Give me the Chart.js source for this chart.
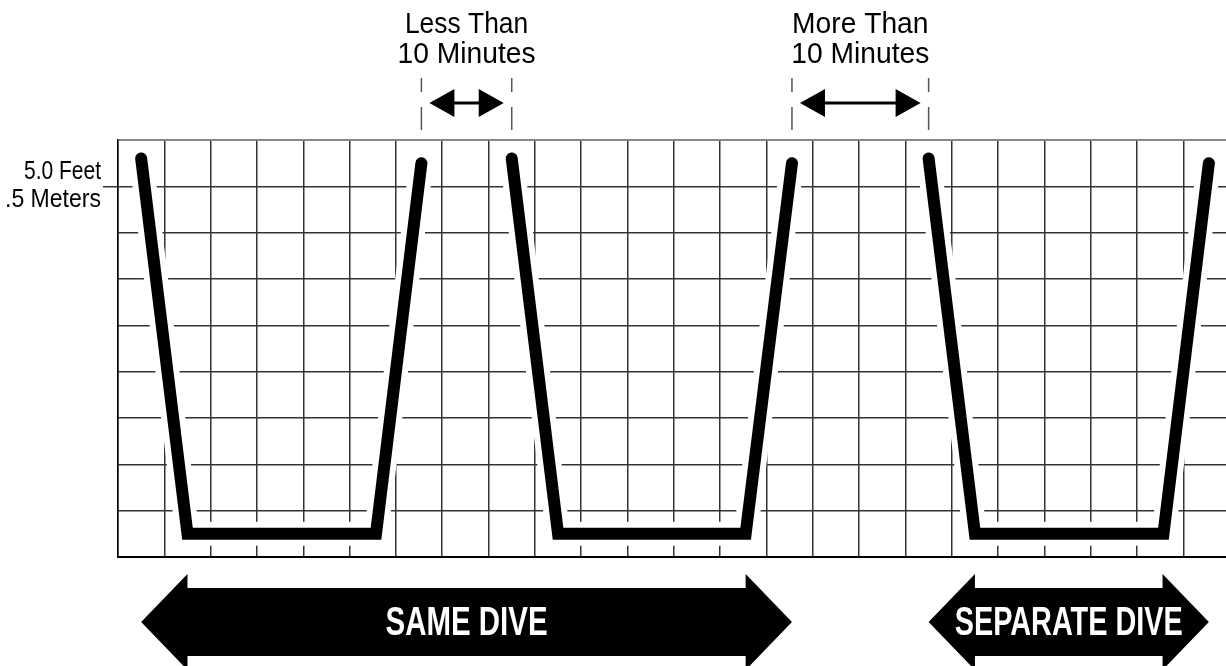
<!DOCTYPE html>
<html>
<head>
<meta charset="utf-8">
<script src="https://cdn.jsdelivr.net/npm/chart.js@4.4.1/dist/chart.umd.min.js"></script>
<style>
  html, body { margin: 0; padding: 0; background: #fff; }
  canvas { display: block; }
</style>
</head>
<body>
<canvas id="diveChart" width="1226" height="666"></canvas>
<script>
// Dive profiles, in grid squares (x = time, y = height above the bottom line)
const diveStartX = [0.5, 8.5, 17.5];
const diveBottomLeftX = [1.5, 9.5, 18.5];
const diveBottomRightX = [5.57, 13.55, 22.57];
const diveEndX = [6.55, 14.55, 23.55];
const surfaceStartY = [8.6, 8.6, 8.6];
const surfaceEndY = [8.5, 8.5, 8.5];
const bottomY = [0.5, 0.5, 0.5];

// grid lines and the one labelled depth tick
const xGrid = [0, 1, 2, 3, 4, 5, 6, 7, 8, 9, 10, 11, 12, 13, 14, 15, 16, 17, 18, 19, 20, 21, 22, 23];
const yGrid = [0, 1, 2, 3, 4, 5, 6, 7, 8, 9];
const yTickValue = 8;
const yTickLabel = ['5.0 Feet', '.5 Meters'];

// surface intervals between dives
const gapAfterDive = [0, 1];
const gapLabels = [['Less Than', '10 Minutes'], ['More Than', '10 Minutes']];

// big arrows under the grid
const spanLabels = ['SAME DIVE', 'SEPARATE DIVE'];
const spanFirstDive = [0, 2];
const spanLastDive = [1, 2];

const profile = [];
diveStartX.forEach((x0, i) => {
    if (i > 0) profile.push({ x: (diveEndX[i - 1] + x0) / 2, y: null });
    profile.push({ x: x0, y: surfaceStartY[i] });
    profile.push({ x: diveBottomLeftX[i], y: bottomY[i] });
    profile.push({ x: diveBottomRightX[i], y: bottomY[i] });
    profile.push({ x: diveEndX[i], y: surfaceEndY[i] });
});

const sansFont = '"Liberation Sans", Arial, sans-serif';

function smallArrow(ctx, x1, x2, y) {
    const len = 25, half = 14;
    ctx.lineWidth = 3;
    ctx.beginPath();
    ctx.moveTo(x1 + len - 2, y);
    ctx.lineTo(x2 - len + 2, y);
    ctx.stroke();
    ctx.beginPath();
    ctx.moveTo(x1, y);
    ctx.lineTo(x1 + len, y - half);
    ctx.lineTo(x1 + len, y + half);
    ctx.closePath();
    ctx.moveTo(x2, y);
    ctx.lineTo(x2 - len, y - half);
    ctx.lineTo(x2 - len, y + half);
    ctx.closePath();
    ctx.fill();
}

function bigArrow(ctx, x1, x2, y, len) {
    const head = 48, shaft = 34;
    ctx.beginPath();
    ctx.moveTo(x1, y);
    ctx.lineTo(x1 + len, y - head);
    ctx.lineTo(x1 + len, y - shaft);
    ctx.lineTo(x2 - len, y - shaft);
    ctx.lineTo(x2 - len, y - head);
    ctx.lineTo(x2, y);
    ctx.lineTo(x2 - len, y + head);
    ctx.lineTo(x2 - len, y + shaft);
    ctx.lineTo(x1 + len, y + shaft);
    ctx.lineTo(x1 + len, y + head);
    ctx.closePath();
    ctx.fill();
}

// condensed text: squeeze the normal face a little
function narrowText(ctx, text, x, y, squeeze) {
    ctx.fillText(text, x, y, ctx.measureText(text).width * squeeze);
}

// labels, interval markers and arrows around the grid
const annotations = {
    id: 'annotations',
    afterDraw(chart) {
        const { ctx, chartArea, scales: { x, y } } = chart;
        const top = chartArea.top;
        const unit = x.getPixelForValue(1) - x.getPixelForValue(0);
        ctx.save();
        ctx.textBaseline = 'alphabetic';

        // depth label next to the y tick
        const ty = y.getPixelForValue(yTickValue);
        ctx.fillStyle = '#000';
        ctx.font = '26px ' + sansFont;
        ctx.textAlign = 'right';
        ctx.fillText(yTickLabel[0], chartArea.left - 17, ty - 7, 77);
        ctx.fillText(yTickLabel[1], chartArea.left - 17, ty + 21, 96);

        gapAfterDive.forEach((d, i) => {
            const left = x.getPixelForValue(diveEndX[d]);
            const right = x.getPixelForValue(diveStartX[d + 1]);
            const mid = (left + right) / 2;

            ctx.fillStyle = '#000';
            ctx.font = '30px ' + sansFont;
            ctx.textAlign = 'center';
            narrowText(ctx, gapLabels[i][0], mid, top - 107, i === 0 ? 0.88 : 0.94);
            narrowText(ctx, gapLabels[i][1], mid, top - 77, 0.94);

            ctx.strokeStyle = '#555';
            ctx.lineWidth = 1.5;
            [left, right].forEach(px => {
                ctx.beginPath();
                ctx.moveTo(px, top - 62);
                ctx.lineTo(px, top - 48);
                ctx.moveTo(px, top - 33);
                ctx.lineTo(px, top - 10);
                ctx.stroke();
            });

            ctx.strokeStyle = '#000';
            smallArrow(ctx, left + 8, right - 8, top - 37);
        });

        const cy = chartArea.bottom + 65;
        spanLabels.forEach((label, i) => {
            const x1 = x.getPixelForValue(diveStartX[spanFirstDive[i]]);
            const x2 = x.getPixelForValue(diveEndX[spanLastDive[i]]);
            ctx.fillStyle = '#000';
            bigArrow(ctx, x1, x2, cy, unit);
            ctx.fillStyle = '#fff';
            ctx.font = 'bold 41px ' + sansFont;
            ctx.textAlign = 'center';
            ctx.fillText(label, (x1 + x2) / 2, cy + 13, i === 0 ? 162 : 228);
        });

        ctx.restore();
    }
};

const lineStyle = {
    data: profile,
    pointRadius: 0,
    tension: 0,
    spanGaps: false,
    borderCapStyle: 'round',
    borderJoinStyle: 'miter',
    fill: false
};

new Chart(document.getElementById('diveChart'), {
    type: 'line',
    data: {
        datasets: [
            Object.assign({}, lineStyle, { borderColor: '#000', borderWidth: 12 }),
            // white halo that breaks the grid around the profile
            Object.assign({}, lineStyle, { borderColor: '#fff', borderWidth: 24 })
        ]
    },
    options: {
        responsive: false,
        animation: false,
        layout: { padding: { top: 140, bottom: 109, left: 0, right: 0 } },
        plugins: { legend: { display: false }, tooltip: { enabled: false } },
        scales: {
            x: {
                type: 'linear',
                min: 0,
                max: 23.92,
                afterBuildTicks: s => { s.ticks = xGrid.map(v => ({ value: v })); },
                afterFit: s => { s.height = 0; },
                ticks: { display: false, autoSkip: false },
                grid: { color: '#333', lineWidth: 1.5, drawTicks: false },
                border: { color: '#000', width: 2 }
            },
            y: {
                min: 0,
                max: 9,
                afterBuildTicks: s => { s.ticks = yGrid.map(v => ({ value: v })); },
                afterFit: s => { s.width = 118; },
                ticks: { display: false, autoSkip: false },
                grid: {
                    color: c => (c.tick && c.tick.value === 9 ? '#888' : '#333'),
                    lineWidth: c => (c.tick && c.tick.value === 9 ? 2 : 1.5),
                    tickLength: 15,
                    tickColor: c => (c.tick && c.tick.value === yTickValue ? '#333' : 'rgba(0,0,0,0)')
                },
                border: { color: '#000', width: 1.5 }
            }
        }
    },
    plugins: [annotations]
});
</script>
</body>
</html>
